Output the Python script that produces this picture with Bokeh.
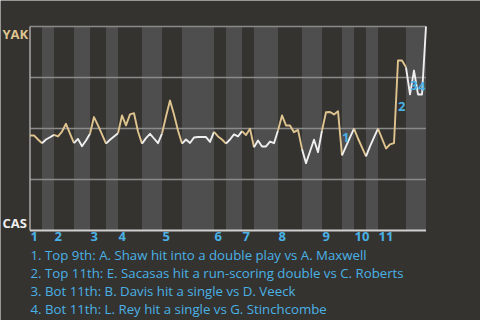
import numpy as np
from bokeh.plotting import figure
from bokeh.models import Range1d
from bokeh.embed import file_html
from bokeh.resources import INLINE
from bokeh.core.properties import value

# ---- data ----
away_team = "YAK"
home_team = "CAS"
inning_labels = ["1", "2", "3", "4", "5", "6", "7", "8", "9", "10", "11"]
# number of plays in each half-inning (top 1, bot 1, top 2, ...)
half_inning_plays = [3, 3, 5, 4, 4, 3, 6, 5, 5, 8, 3, 4, 3, 6, 6, 5, 5, 3, 3, 3, 7, 5]
# win probability of YAK after each play (play 0 = start)
win_prob = [
    0.466, 0.466, 0.446, 0.428, 0.446, 0.457, 0.469, 0.461, 0.485, 0.523,
    0.475, 0.428, 0.449, 0.413, 0.441, 0.474, 0.556, 0.515, 0.471, 0.426,
    0.445, 0.461, 0.477, 0.564, 0.515, 0.569, 0.575, 0.485, 0.426, 0.453,
    0.474, 0.451, 0.428, 0.475, 0.559, 0.637, 0.569, 0.490, 0.426, 0.446,
    0.429, 0.456, 0.458, 0.458, 0.458, 0.434, 0.483, 0.461, 0.446, 0.426,
    0.446, 0.471, 0.461, 0.487, 0.468, 0.499, 0.408, 0.441, 0.412, 0.412,
    0.436, 0.428, 0.490, 0.564, 0.515, 0.515, 0.482, 0.493, 0.400, 0.330,
    0.387, 0.445, 0.384, 0.490, 0.580, 0.581, 0.569, 0.585, 0.368, 0.412,
    0.456, 0.499, 0.451, 0.407, 0.363, 0.412, 0.456, 0.499, 0.451, 0.402,
    0.422, 0.428, 0.833, 0.833, 0.800, 0.667, 0.784, 0.667, 0.667, 1.000,
]
# key plays: (play index, description)
key_plays = [
    (78, "Top 9th: A. Shaw hit into a double play vs A. Maxwell"),
    (92, "Top 11th: E. Sacasas hit a run-scoring double vs C. Roberts"),
    (95, "Bot 11th: B. Davis hit a single vs D. Veeck"),
    (97, "Bot 11th: L. Rey hit a single vs G. Stinchcombe"),
]
grid_levels = [0.25, 0.5, 0.75, 1.0]

# ---- style ----
BG = "#35332f"
STRIPE = "#4e4e4e"
GRID = "#8a8a8a"
AWAY_C = "#dfc48f"
HOME_C = "#efefef"
BLUE = "#49b1e6"
FONT = "Open Sans"

n_plays = sum(half_inning_plays)
cum = [0] + [int(c) for c in np.cumsum(half_inning_plays)]

# layout (pixels): plot area inside the full canvas
W, H = 480, 320
PL, PR, PT, PB = 29.5, 425.5, 26, 230
xpx = n_plays / (PR - PL)   # data units per pixel
ypx = 1.0 / (PB - PT)

p = figure(width=W, height=H, output_backend="svg", toolbar_location=None,
           x_range=Range1d(-PL * xpx, n_plays + (W - PR) * xpx),
           y_range=Range1d(-(H - PB) * ypx, 1 + PT * ypx),
           min_border=0, background_fill_color=BG, border_fill_color=BG,
           outline_line_color=None)
p.axis.visible = False
p.grid.visible = False

# bottom-half stripes
lefts = [cum[k] for k in range(1, len(half_inning_plays), 2)]
rights = [cum[k + 1] for k in range(1, len(half_inning_plays), 2)]
p.quad(left=lefts, right=rights, bottom=0, top=1, fill_color=STRIPE, line_color=None)

# grid lines
p.segment(x0=0, x1=n_plays, y0=grid_levels, y1=grid_levels, line_color=GRID, line_width=1.5)
# axis lines
p.segment(x0=[0], x1=[0], y0=[0], y1=[1], line_color="#a8a8a8", line_width=1.5)
p.segment(x0=[0], x1=[n_plays], y0=[0], y1=[0], line_color="#d0d0d0", line_width=2)

# win probability line, colored by batting team
xs, ys, cols = [], [], []
for k in range(len(half_inning_plays)):
    idx = list(range(cum[k], cum[k + 1] + 1))
    xs.append(idx)
    ys.append([win_prob[i] for i in idx])
    cols.append(AWAY_C if k % 2 == 0 else HOME_C)
p.multi_line(xs=xs, ys=ys, line_color=cols, line_width=1.9, line_join="round")

# key play markers at the play's segment midpoint
mx = [i - 0.5 for i, _ in key_plays]
my = [(win_prob[i - 1] + win_prob[i]) / 2 for i, _ in key_plays]
mt = [str(j + 1) for j in range(len(key_plays))]
p.text(x=mx, y=my, text=mt, text_color=BLUE, text_font=value(FONT),
       text_font_style="bold", text_font_size="13px",
       text_align="left", text_baseline="top", x_offset=2, y_offset=0)

# team labels
p.text(x=[-27.5 * xpx], y=[1 + 2 * ypx], text=[away_team], text_color=AWAY_C,
       text_font=value(FONT), text_font_style="bold", text_font_size="13px",
       text_baseline="top", text_align="left")
p.text(x=[-27.5 * xpx], y=[17 * ypx], text=[home_team], text_color=HOME_C,
       text_font=value(FONT), text_font_style="bold", text_font_size="13px",
       text_baseline="top", text_align="left")

# inning numbers at the start of each top half
p.text(x=[cum[2 * j] + 0.5 * xpx for j in range(len(inning_labels))],
       y=[-1 * ypx] * len(inning_labels), text=inning_labels, text_color=BLUE,
       text_font=value(FONT), text_font_style="bold", text_font_size="13px",
       text_baseline="top", text_align="left")

# key play descriptions
p.text(x=[0.5 * xpx] * len(key_plays),
       y=[-(15 + 18 * j) * ypx for j in range(len(key_plays))],
       text=[f"{j + 1}. {d}" for j, (_, d) in enumerate(key_plays)],
       text_color=BLUE, text_font=value(FONT), text_font_size="13.25px",
       text_baseline="top", text_align="left")

open("out.html", "w").write(file_html(p, INLINE))
